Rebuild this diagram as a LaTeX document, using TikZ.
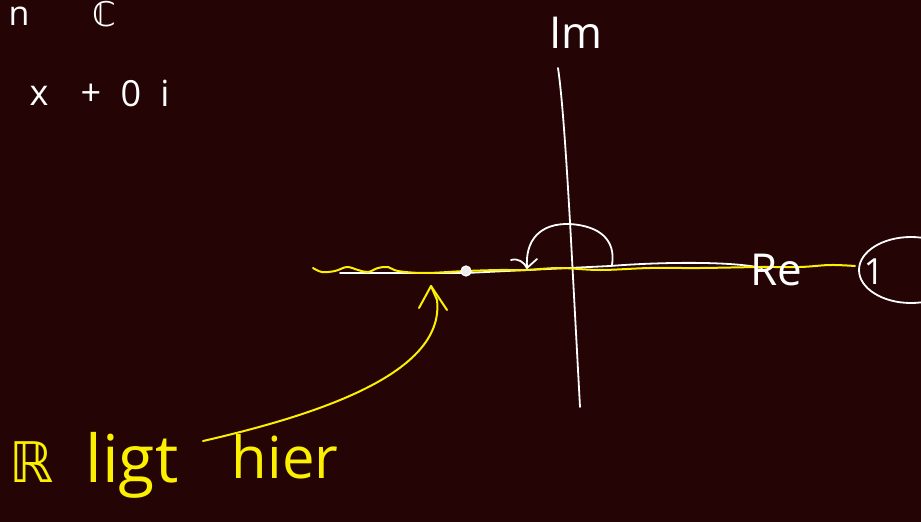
\documentclass[tikz,border=0pt]{standalone}
\usepackage{fontspec}
\usetikzlibrary{shapes.geometric}
\setmainfont{Open Sans}
\newfontfamily\symfont{DejaVu Sans}
\definecolor{bgdark}{RGB}{36,4,4}
\definecolor{penyellow}{RGB}{250,240,0}
\tikzset{
  whitepen/.style={draw=white, line width=1.8pt, line cap=round, line join=round},
  yellowpen/.style={draw=penyellow, line width=2pt, line cap=round, line join=round},
  wtext/.style={text=white, inner sep=0pt},
  ytext/.style={text=penyellow, inner sep=0pt},
}
\begin{document}
\begin{tikzpicture}[x=1pt, y=-1pt]
\useasboundingbox (0,0) rectangle (921,522);
\fill[bgdark] (0,0) rectangle (921,522);
% top-left texts
\node[wtext, font=\fontsize{34}{34}\selectfont] (n) at (19,16) {n};
\node[wtext, font=\symfont\fontsize{34}{34}\selectfont] (C) at (104,14) {ℂ};
\node[wtext, font=\fontsize{36}{36}\selectfont] (x) at (39,96) {x};
\node[wtext, font=\fontsize{36}{36}\selectfont] (plus) at (91,95) {+};
\node[wtext, font=\fontsize{36}{36}\selectfont] (zero) at (131,94) {0};
\node[wtext, font=\fontsize{36}{36}\selectfont] (i) at (165,93) {i};
% imaginary axis
\coordinate (imtop) at (558,68);
\coordinate (imbot) at (580,407);
\draw[whitepen] (imtop) .. controls (562,95) and (566,150) .. (571,240) -- (imbot);
\node[wtext, font=\fontsize{44}{44}\selectfont] (Im) at (576,33) {Im};
% real axis (white)
\coordinate (wl) at (340,273);
\coordinate (wr) at (762,268);
\draw[whitepen] (wl) -- (466,273) -- (610,266) .. controls (660,262) and (730,261) .. (wr);
% real line (yellow, wavy)
\coordinate (yl) at (313,268);
\coordinate (yr) at (855,266);
\draw[yellowpen] plot[smooth, tension=0.6] coordinates {(yl) (322,272) (335,271) (347,267) (358,270) (368,272) (378,268) (388,267) (398,271) (425,273) (466,271) (500,270) (525,270) (560,268) (600,270) (650,268) (700,268) (760,267) (800,267) (830,265) (yr)};
% point on the line
\node[circle, draw=white, fill=white!85!gray, line width=1.2pt, minimum size=10pt, inner sep=0pt] (pt) at (466,271) {};
% rotation arc with arrow head
\coordinate (arcstart) at (612,265);
\coordinate (arcend) at (527,268);
\draw[whitepen] (arcstart) .. controls (616,240) and (600,226) .. (570,224)
  .. controls (540,223) and (525,240) .. (arcend);
\draw[whitepen] (511,260) .. controls (518,258) and (524,262) .. (arcend) -- (537,259);
% labels on axes
\node[wtext, font=\fontsize{44}{44}\selectfont] (Re) at (776,270) {Re};
\node[wtext, draw=white, line width=1.8pt, ellipse, minimum width=104pt, minimum height=66pt] (one) at (911,270) {};
\node[wtext, font=\fontsize{36}{36}\selectfont] (onetext) at (874,272) {1};
% yellow annotation arrow
\node[ytext, font=\symfont\fontsize{56}{56}\selectfont] (R) at (32,462) {ℝ};
\node[ytext, font=\fontsize{66}{66}\selectfont] (ligt) at (132,465) {ligt};
\node[ytext, font=\fontsize{58}{58}\selectfont] (hier) at (285,457) {hier};
\coordinate (astart) at (203,441);
\coordinate (atip) at (431,286);
\draw[yellowpen] (astart) .. controls (330,412) and (445,370) .. (437,300) -- (atip);
\draw[yellowpen] (419,308) -- (atip) -- (447,310);
\end{tikzpicture}
\end{document}
